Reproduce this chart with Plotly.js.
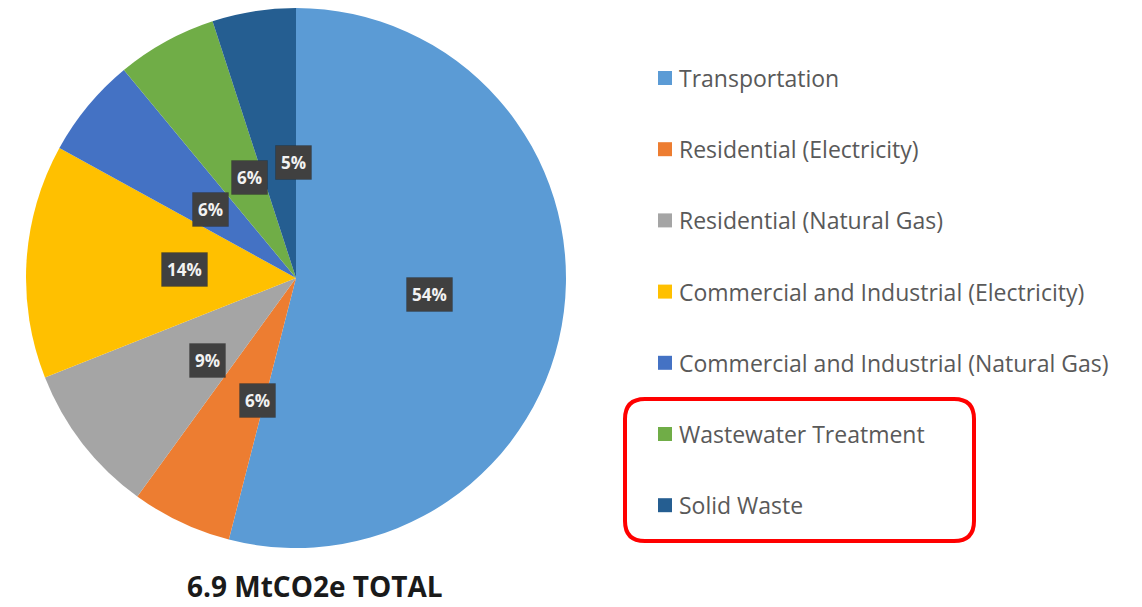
<!DOCTYPE html>
<html>
<head>
<meta charset="utf-8">
<script src="https://cdn.plot.ly/plotly-3.0.1.min.js"></script>
<style>
html,body{margin:0;padding:0;background:#fff;}
#chart{width:1142px;height:607px;}
</style>
</head>
<body>
<div id="chart"></div>
<script>
const categories = [
  "Transportation",
  "Residential (Electricity)",
  "Residential (Natural Gas)",
  "Commercial and Industrial (Electricity)",
  "Commercial and Industrial (Natural Gas)",
  "Wastewater Treatment",
  "Solid Waste"
];
const shares = [54, 6, 9, 14, 6, 6, 5];
const colors = ["#5B9BD5", "#ED7D31", "#A5A5A5", "#FFC000", "#4472C4", "#70AD47", "#255E91"];
const totalLabel = "6.9 MtCO2e TOTAL";

const W = 1142, H = 607;
const cx = 296, cy = 278, R = 270;
const px = x => x / W;
const py = y => 1 - y / H;

const pie = {
  type: "pie",
  labels: categories,
  values: shares,
  sort: false,
  direction: "clockwise",
  rotation: 0,
  marker: {colors: colors, line: {width: 0}},
  textinfo: "none",
  hoverinfo: "label+percent",
  showlegend: false,
  domain: {x: [px(cx - R), px(cx + R)], y: [py(cy + R), py(cy - R)]}
};

const annotations = [];
const shapes = [];
const total = shares.reduce((a, b) => a + b, 0);
let cum = 0;
shares.forEach((v, i) => {
  const mid = (cum + v / 2) / total * 2 * Math.PI;
  cum += v;
  const lx = cx + 0.5 * R * Math.sin(mid);
  const ly = cy - 0.5 * R * Math.cos(mid);
  const txt = Math.round(v / total * 100) + "%";
  annotations.push({
    xref: "paper", yref: "paper", x: px(lx), y: py(ly),
    text: "<b>" + txt + "</b>", showarrow: false,
    font: {family: "Open Sans", size: 17, color: "#F2F2F2"},
    bgcolor: "#404040", borderpad: 5,
    bordercolor: "rgba(0,0,0,0.15)", borderwidth: 1
  });
});

// legend
const legY0 = 78, legStep = 71.2;
categories.forEach((c, i) => {
  const y = legY0 + i * legStep;
  shapes.push({
    type: "rect", xref: "paper", yref: "paper",
    x0: px(658), x1: px(672), y0: py(y + 7), y1: py(y - 7),
    fillcolor: colors[i], line: {width: 0}
  });
  annotations.push({
    xref: "paper", yref: "paper", x: px(677), y: py(y),
    xanchor: "left", yanchor: "middle",
    text: c, showarrow: false,
    font: {family: "Open Sans", size: 23, color: "#595959"}
  });
});

// red rounded highlight box
(function () {
  const x0 = 625, x1 = 974, y0 = 399, y1 = 541, r = 20;
  const P = (x, y) => px(x) + "," + py(y);
  const path = "M" + P(x0 + r, y0) +
    " L" + P(x1 - r, y0) + " Q" + P(x1, y0) + " " + P(x1, y0 + r) +
    " L" + P(x1, y1 - r) + " Q" + P(x1, y1) + " " + P(x1 - r, y1) +
    " L" + P(x0 + r, y1) + " Q" + P(x0, y1) + " " + P(x0, y1 - r) +
    " L" + P(x0, y0 + r) + " Q" + P(x0, y0) + " " + P(x0 + r, y0) + " Z";
  shapes.push({type: "path", xref: "paper", yref: "paper", path: path,
    line: {color: "#FF0000", width: 4}});
})();

// total label
annotations.push({
  xref: "paper", yref: "paper", x: px(315), y: py(586),
  xanchor: "center", yanchor: "middle",
  text: "<b>" + totalLabel + "</b>", showarrow: false,
  font: {family: "Open Sans", size: 28, color: "#1A1A1A"},
  borderpad: 0
});

const layout = {
  width: W, height: H,
  margin: {l: 0, r: 0, t: 0, b: 0},
  paper_bgcolor: "#FFFFFF",
  plot_bgcolor: "#FFFFFF",
  showlegend: false,
  annotations: annotations,
  shapes: shapes
};

Plotly.newPlot("chart", [pie], layout, {displayModeBar: false, staticPlot: true});
</script>
</body>
</html>
